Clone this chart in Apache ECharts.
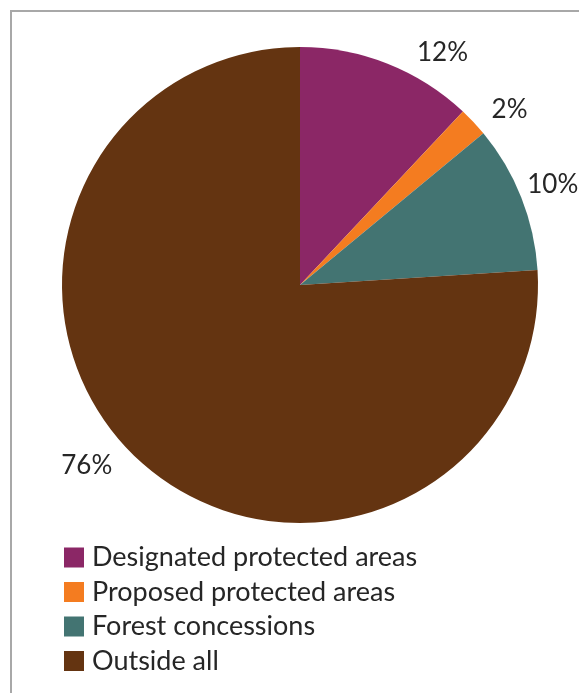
<!DOCTYPE html>
<html>
<head>
<meta charset="utf-8">
<script src="https://cdn.jsdelivr.net/npm/echarts@6/dist/echarts.min.js"></script>
<style>
  html, body { margin: 0; padding: 0; background: #fff; }
  .frame {
    position: absolute;
    left: 10px;
    top: 10px;
    width: 580px;
    height: 700px;
    border-top: 2px solid #a8a8a8;
    border-left: 2px solid #a8a8a8;
  }
  #chart {
    position: absolute;
    left: 0;
    top: 0;
    width: 579px;
    height: 693px;
  }
</style>
</head>
<body>
<div class="frame"></div>
<div id="chart"></div>
<script>
const categories = ['Designated protected areas', 'Proposed protected areas', 'Forest concessions', 'Outside all'];
const shares = [12, 2, 10, 76];
const colors = ['#8b2766', '#f47c20', '#437472', '#643411'];
// leader lengths (hidden) just to push each % label where the original puts it
const leadLen = [12, 18, 1, 10];
const leadLen2 = [20, 0, 0, 13];

const chart = echarts.init(document.getElementById('chart'));

chart.setOption({
  animation: false,
  color: colors,
  legend: {
    orient: 'vertical',
    left: 64,
    top: 544,
    height: 150,
    padding: 0,
    icon: 'rect',
    itemWidth: 20,
    itemHeight: 20,
    itemGap: 7.5,
    data: categories,
    textStyle: {
      fontFamily: 'Lato',
      fontSize: 27,
      color: '#262626',
      padding: [0, 0, 0, 3]
    }
  },
  series: [
    {
      type: 'pie',
      center: [300, 285],
      radius: 238,
      startAngle: 90,
      clockwise: true,
      data: categories.map((name, i) => ({
        name: name,
        value: shares[i],
        labelLine: { length: leadLen[i], length2: leadLen2[i] }
      })),
      label: {
        show: true,
        position: 'outside',
        formatter: '{c}%',
        fontFamily: 'Lato',
        fontSize: 26,
        color: '#262626',
        overflow: 'none'
      },
      labelLine: { show: false },
      labelLayout: function (params) {
        return params.dataIndex === 2 ? { dy: -12 } : {};
      },
      itemStyle: { borderWidth: 0 }
    }
  ]
});
</script>
</body>
</html>
